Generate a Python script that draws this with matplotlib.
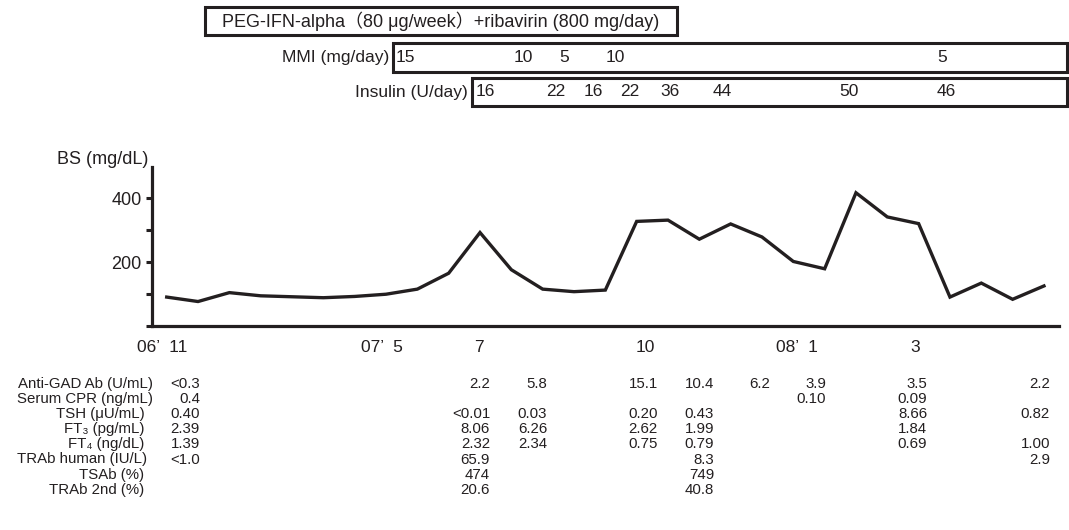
import numpy as np
import matplotlib
matplotlib.use("Agg")
import matplotlib.pyplot as plt
import matplotlib.transforms as mtransforms
from matplotlib.patches import Rectangle

plt.rcParams['font.family'] = ['Liberation Sans', 'DejaVu Sans', 'Noto Sans CJK JP']

INK = '#231f20'

# Blood sugar (mg/dL), one value per visit
bs_values = [90, 76, 104, 94, 91, 88, 92, 99, 115, 165, 293, 176, 115, 107, 112,
             328, 332, 272, 320, 279, 202, 179, 418, 342, 321, 90, 134, 83, 125]

# month labels on the time axis (centre position in visit units)
month_labels = ["06\u2019  11", "07\u2019  5", "7", "10", "08\u2019  1", "3"]
month_pos = [-0.15, 6.86, 9.98, 15.28, 20.1, 23.9]

# treatment boxes (start / end in visit units)
peg_label = "PEG-IFN-alpha\uff0880 \u03bcg/week\uff09+ribavirin (800 mg/day)"
peg_span = (1.22, 16.29)
mmi_span = (7.22, 28.74)
ins_span = (9.74, 28.74)

mmi_doses = ["15", "10", "5", "10", "5"]
mmi_pos = [7.61, 11.37, 12.69, 14.31, 24.75]
ins_doses = ["16", "22", "16", "22", "36", "44", "50", "46"]
ins_pos = [10.16, 12.43, 13.61, 14.79, 16.07, 17.73, 21.78, 24.87]

# laboratory table
row_labels = ["Anti-GAD Ab (U/mL)", "Serum CPR (ng/mL)", "TSH (\u03bcU/mL)",
              "FT\u2083 (pg/mL)", "FT\u2084 (ng/dL)", "TRAb human (IU/L)",
              "TSAb (%)", "TRAb 2nd (%)"]
row_label_right = [153, 153, 145, 144, 144, 147, 144, 144]  # pixels
col_pos = [1.06, 10.32, 12.14, 15.68, 17.47, 19.26, 21.05, 24.27, 28.19]
anti_gad = ["<0.3", "2.2", "5.8", "15.1", "10.4", "6.2", "3.9", "3.5", "2.2"]
serum_cpr = ["0.4", "", "", "", "", "", "0.10", "0.09", ""]
tsh = ["0.40", "<0.01", "0.03", "0.20", "0.43", "", "", "8.66", "0.82"]
ft3 = ["2.39", "8.06", "6.26", "2.62", "1.99", "", "", "1.84", ""]
ft4 = ["1.39", "2.32", "2.34", "0.75", "0.79", "", "", "0.69", "1.00"]
trab_human = ["<1.0", "65.9", "", "", "8.3", "", "", "", "2.9"]
tsab = ["", "474", "", "", "749", "", "", "", ""]
trab_2nd = ["", "20.6", "", "", "40.8", "", "", "", ""]
table_rows = [anti_gad, serum_cpr, tsh, ft3, ft4, trab_human, tsab, trab_2nd]

W, H = 1069, 530
fig = plt.figure(figsize=(W / 100, H / 100), dpi=100)
ax = fig.add_axes([151.5 / W, 1 - 325.7 / H, (1059 - 151.5) / W, (325.7 - 166.7) / H])

x = np.arange(len(bs_values))
ax.plot(x, bs_values, color=INK, lw=2.4, solid_joinstyle='miter')
ax.set_xlim(-0.485, 28.48)
ax.set_ylim(0, 500)
ax.set_yticks([0, 100, 200, 300, 400])
ax.set_yticklabels(["", "", "200", "", "400"], fontsize=13, color=INK)
ax.set_xticks([])
ax.tick_params(axis='y', length=4, width=2.2, color=INK, pad=3)
for s in ['top', 'right']:
    ax.spines[s].set_visible(False)
for s in ['left', 'bottom']:
    ax.spines[s].set_linewidth(2.3)
    ax.spines[s].set_color(INK)
ax.patch.set_visible(False)

fig.text(57 / W, 1 - 160 / H, "BS (mg/dL)", fontsize=13, color=INK, va='center')

trans = mtransforms.blended_transform_factory(ax.transData, fig.transFigure)

def fy(py):
    return 1 - py / H

for lab, p in zip(month_labels, month_pos):
    ax.text(p, fy(347), lab, transform=trans, ha='center', va='center',
            fontsize=12.5, color=INK)

# treatment boxes
def box(span, top, bottom):
    r = Rectangle((span[0], fy(bottom)), span[1] - span[0], (bottom - top) / H,
                  transform=trans, fill=False, lw=2.2, ec=INK, clip_on=False)
    fig.add_artist(r)

top_fs = 12.5
box(peg_span, 7, 35)
ax.text((peg_span[0] + peg_span[1]) / 2, fy(21), peg_label, transform=trans,
        ha='center', va='center', fontsize=13, color=INK)

box(mmi_span, 43, 72)
fig.text(389 / W, fy(57.5), "MMI (mg/day)", ha='right', va='center',
         fontsize=top_fs, color=INK)
for d, p in zip(mmi_doses, mmi_pos):
    ax.text(p, fy(57.5), d, transform=trans, ha='center', va='center',
            fontsize=top_fs, color=INK)

box(ins_span, 78, 106)
fig.text(468 / W, fy(92), "Insulin (U/day)", ha='right', va='center',
         fontsize=top_fs, color=INK)
for d, p in zip(ins_doses, ins_pos):
    ax.text(p, fy(92), d, transform=trans, ha='center', va='center',
            fontsize=top_fs, color=INK)

# lab table
for i, (lab, vals) in enumerate(zip(row_labels, table_rows)):
    yy = fy(384 + 15.1 * i)
    fig.text(row_label_right[i] / W, yy, lab, ha='right', va='center', fontsize=10.8, color=INK)
    for v, p in zip(vals, col_pos):
        if v:
            ax.text(p, yy, v, transform=trans, ha='right', va='center', fontsize=10.8, color=INK)

fig.savefig("out.png", dpi=100)
